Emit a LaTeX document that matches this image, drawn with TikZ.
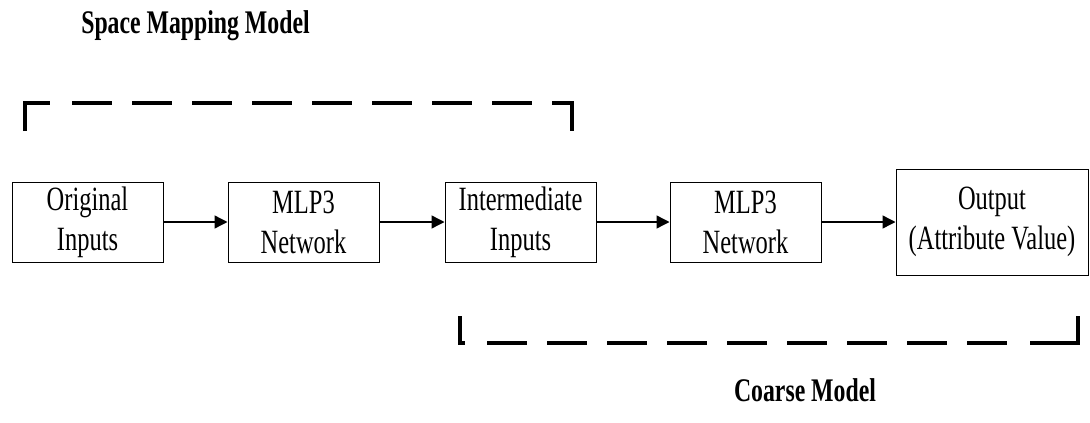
\documentclass[tikz,border=0pt]{standalone}
\usepackage{fontspec}
\setmainfont[FakeStretch=0.72]{Liberation Serif}
\usetikzlibrary{arrows.meta}
\begin{document}
\begin{tikzpicture}[x=1pt,y=-1pt,
  blk/.style={draw,line width=1pt,minimum width=151pt,minimum height=80pt,inner sep=0pt,align=center,font=\fontsize{34}{40}\selectfont},
  arr/.style={line width=1.4pt,-{Triangle[length=13pt,width=13pt]}},
  brk/.style={line width=3.6pt,line cap=butt},
  ttl/.style={font=\fontsize{33}{38}\selectfont\bfseries}]
\useasboundingbox (0,0) rectangle (1090,423);
\node[blk] (b1) at (87.5,222) {Original\\Inputs};
\node[blk] (b2) at (303.5,222) {MLP3\\Network};
\node[blk] (b3) at (520.5,222) {Intermediate\\Inputs};
\node[blk] (b4) at (745.5,222) {MLP3\\Network};
\node[blk,minimum width=192pt,minimum height=106pt] (b5) at (992,222) {Output\\(Attribute Value)};
\draw[arr] (b1) -- (b2);
\draw[arr] (b2) -- (b3);
\draw[arr] (b3) -- (b4);
\draw[arr] (b4) -- (b5);
% top bracket
\draw[brk] (25,131) -- (25,103) -- (50,103);
\draw[brk,dash pattern=on 40pt off 20pt] (72,103) -- (532,103);
\draw[brk] (552,103) -- (572,103) -- (572,131);
% bottom bracket
\draw[brk] (460,316) -- (460,343) -- (465,343);
\draw[brk,dash pattern=on 40pt off 20pt] (487,343) -- (1010,343);
\draw[brk] (1030,343) -- (1078,343) -- (1078,316);
\node[ttl] (t1) at (195.5,26) {Space Mapping Model};
\node[ttl] (t2) at (805,390) {Coarse Model};
\end{tikzpicture}
\end{document}
